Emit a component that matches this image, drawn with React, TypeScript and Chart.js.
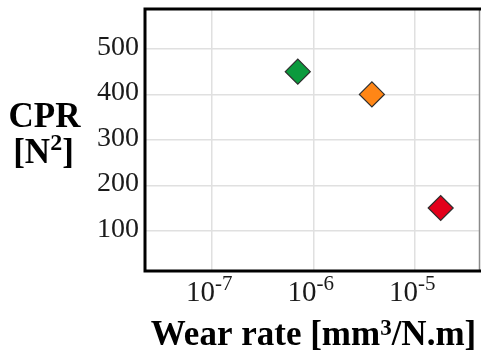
import { useEffect, useRef } from 'react';
import { Chart, registerables } from 'chart.js';

Chart.register(...registerables);

// Wear rate (mm³/N.m) and contact pressure ratio (N²) for each specimen
const wearRate = [7.0e-7, 3.76e-6, 1.79e-5];
const cpr = [450, 400, 150];
const markerColors = ['#0b9a3d', '#ff8616', '#e3001b'];

// Axis tick positions
const cprTicks = [100, 200, 300, 400, 500];
const wearRateExponents = [-7, -6, -5];

const WIDTH = 481;
const HEIGHT = 352;
const SERIF = '"Liberation Serif", "Times New Roman", serif';

type Run = { text: string; size: number; rise: number };

function drawRuns(ctx: CanvasRenderingContext2D, runs: Run[], cx: number, baseline: number) {
  const widths = runs.map((r) => {
    ctx.font = `bold ${r.size}px ${SERIF}`;
    return ctx.measureText(r.text).width;
  });
  const total = widths.reduce((a, b) => a + b, 0);
  let x = cx - total / 2;
  ctx.textAlign = 'left';
  ctx.textBaseline = 'alphabetic';
  runs.forEach((r, i) => {
    ctx.font = `bold ${r.size}px ${SERIF}`;
    ctx.fillText(r.text, x, baseline - r.rise);
    x += widths[i];
  });
}

// Frame: heavy black on left/top/bottom, thin grey on the right
const framePlugin = {
  id: 'frame',
  beforeDatasetsDraw(chart: Chart) {
    const { ctx, chartArea } = chart;
    const { left, right, top, bottom } = chartArea;
    ctx.save();
    ctx.strokeStyle = '#8a8a8a';
    ctx.lineWidth = 1.5;
    ctx.beginPath();
    ctx.moveTo(right - 0.5, top);
    ctx.lineTo(right - 0.5, bottom);
    ctx.stroke();
    ctx.strokeStyle = '#000';
    ctx.lineWidth = 3;
    ctx.lineJoin = 'miter';
    ctx.beginPath();
    ctx.moveTo(right + 2, top);
    ctx.lineTo(left, top);
    ctx.lineTo(left, bottom);
    ctx.lineTo(right + 2, bottom);
    ctx.stroke();
    ctx.restore();
  },
};

// Tick labels with superscript exponents, plus axis titles
const labelPlugin = {
  id: 'labels',
  afterDraw(chart: Chart) {
    const { ctx, chartArea } = chart;
    const xs = chart.scales.x;
    const ys = chart.scales.y;
    ctx.save();
    ctx.fillStyle = '#1a1a1a';

    ctx.font = `28px ${SERIF}`;
    ctx.textAlign = 'right';
    ctx.textBaseline = 'alphabetic';
    cprTicks.forEach((v) => {
      ctx.fillText(String(v), chartArea.left - 6, ys.getPixelForValue(v) + 6);
    });

    wearRateExponents.forEach((e) => {
      const px = xs.getPixelForValue(Math.pow(10, e));
      ctx.font = `29px ${SERIF}`;
      ctx.textAlign = 'right';
      ctx.fillText('10', px + 3, 301);
      ctx.font = `21px ${SERIF}`;
      ctx.textAlign = 'left';
      ctx.fillText(`-${Math.abs(e)}`, px + 3, 290);
    });

    ctx.fillStyle = '#000';
    drawRuns(ctx, [{ text: 'CPR', size: 35, rise: 0 }], 44.5, 127);
    drawRuns(
      ctx,
      [
        { text: '[N', size: 35, rise: 0 },
        { text: '2', size: 24, rise: 13 },
        { text: ']', size: 35, rise: 0 },
      ],
      43.5,
      163
    );
    drawRuns(
      ctx,
      [
        { text: 'Wear rate [mm', size: 35, rise: 0 },
        { text: '3', size: 23, rise: 10 },
        { text: '/N.m]', size: 35, rise: 0 },
      ],
      (chartArea.left + chartArea.right) / 2 + 1,
      345
    );
    ctx.restore();
  },
};

export default function App() {
  const canvasRef = useRef<HTMLCanvasElement | null>(null);

  useEffect(() => {
    const canvas = canvasRef.current;
    if (!canvas) return;
    const chart = new Chart(canvas, {
      type: 'scatter',
      data: {
        datasets: [
          {
            data: wearRate.map((x, i) => ({ x, y: cpr[i] })),
            backgroundColor: markerColors,
            borderColor: '#2e2e2e',
            borderWidth: 1.2,
            pointStyle: 'rectRot',
            pointRadius: 12.5,
            pointHoverRadius: 12.5,
          },
        ],
      },
      options: {
        responsive: false,
        animation: false,
        events: [],
        layout: { autoPadding: false, padding: { top: 9, right: 1, left: 0, bottom: 0 } },
        plugins: { legend: { display: false }, tooltip: { enabled: false } },
        scales: {
          x: {
            type: 'logarithmic',
            min: Math.pow(10, -7.66),
            max: Math.pow(10, -4.36),
            afterBuildTicks: (scale: any) => {
              scale.ticks = wearRateExponents.map((e) => ({ value: Math.pow(10, e) }));
            },
            afterFit: (scale: any) => {
              scale.height = 81;
            },
            ticks: { display: false },
            border: { display: false },
            grid: { color: '#e0e0e0', lineWidth: 1.5, drawTicks: false },
          },
          y: {
            type: 'linear',
            min: 11.3,
            max: 588,
            afterBuildTicks: (scale: any) => {
              scale.ticks = cprTicks.map((v) => ({ value: v }));
            },
            afterFit: (scale: any) => {
              scale.width = 145;
            },
            ticks: { display: false },
            border: { display: false },
            grid: { color: '#e0e0e0', lineWidth: 1.5, drawTicks: false },
          },
        },
      },
      plugins: [framePlugin, labelPlugin],
    });
    return () => chart.destroy();
  }, []);

  return (
    <canvas
      ref={canvasRef}
      width={WIDTH}
      height={HEIGHT}
      style={{ position: 'absolute', left: 0, top: 0, width: WIDTH, height: HEIGHT, background: '#fff' }}
    />
  );
}
